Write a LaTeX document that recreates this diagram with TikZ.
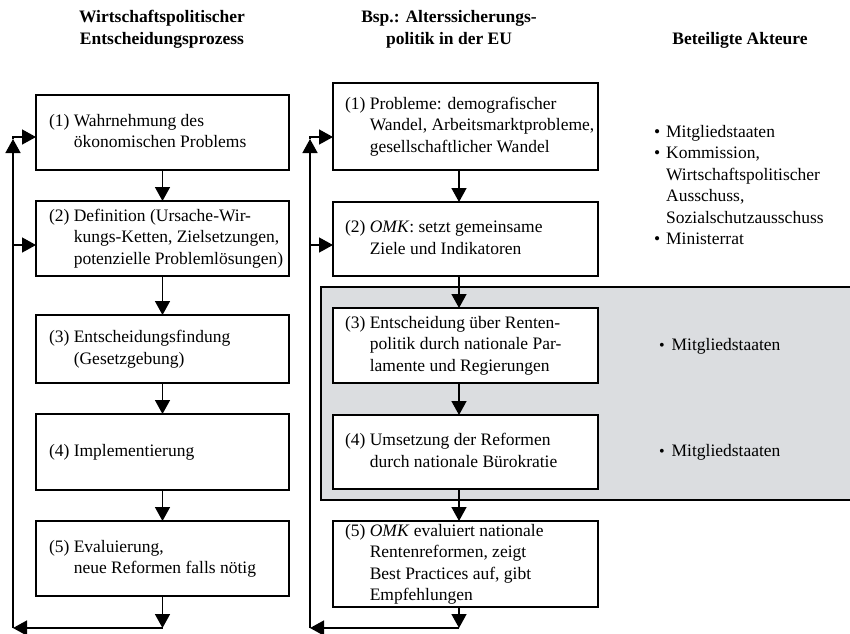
\documentclass[tikz,border=0pt]{standalone}
\usepackage{fontspec}
\setmainfont{Liberation Serif}
\usetikzlibrary{arrows.meta}
\definecolor{graybg}{RGB}{219,221,224}
\begin{document}
\begin{tikzpicture}[x=1pt,y=1pt,
  every node/.style={font=\fontsize{17.5}{21.5}\selectfont, inner sep=0pt, outer sep=0pt},
  box/.style={draw, line width=1.5pt, fill=white},
  lbox/.style={box, minimum width=253},
  mbox/.style={box, minimum width=265},
  txt/.style={anchor=west},
  head/.style={font=\fontsize{17.5}{22}\selectfont\bfseries, align=center},
  arr/.style={line width=1.5pt, -{Triangle[length=14pt,width=15pt]}},
  ln/.style={line width=1.5pt}
]
\useasboundingbox (0,0) rectangle (850,-633);

% headers
\node[head] (H1) at (162,-29) {Wirtschaftspolitischer\\Entscheidungsprozess};
\node[head] (H2) at (449,-29) {Bsp.: Alterssicherungs-\\politik in der EU};
\node[head] (H3) at (740,-40) {Beteiligte Akteure};

% gray region
\node[draw, line width=1.5pt, fill=graybg, anchor=north west, minimum width=540, minimum height=213] (G) at (321,-287) {};

% left column boxes
\node[lbox, minimum height=75] (L1) at (162.5,-132.5) {};
\node[lbox, minimum height=75] (L2) at (162.5,-238.5) {};
\node[lbox, minimum height=68] (L3) at (162.5,-349) {};
\node[lbox, minimum height=76] (L4) at (162.5,-452) {};
\node[lbox, minimum height=75] (L5) at (162.5,-558.5) {};

\node[txt] (L1t) at ([xshift=13]L1.west) {\begin{tabular}{@{}l@{\ }l@{}}(1) & Wahrnehmung des\\ & ökonomischen Problems\end{tabular}};
\node[txt] (L2t) at ([xshift=13]L2.west) {\begin{tabular}{@{}l@{\ }l@{}}(2) & Definition (Ursache-Wir-\\ & kungs-Ketten, Zielsetzungen,\\ & potenzielle Problemlösungen)\end{tabular}};
\node[txt] (L3t) at ([xshift=13]L3.west) {\begin{tabular}{@{}l@{\ }l@{}}(3) & Entscheidungsfindung\\ & (Gesetzgebung)\end{tabular}};
\node[txt] (L4t) at ([xshift=13]L4.west) {\begin{tabular}{@{}l@{\ }l@{}}(4) & Implementierung\end{tabular}};
\node[txt] (L5t) at ([xshift=13]L5.west) {\begin{tabular}{@{}l@{\ }l@{}}(5) & Evaluierung,\\ & neue Reformen falls nötig\end{tabular}};

% middle column boxes
\node[mbox, minimum height=87] (M1) at (465.5,-126.5) {};
\node[mbox, minimum height=74] (M2) at (465.5,-239) {};
\node[mbox, minimum height=75] (M3) at (465.5,-345.5) {};
\node[mbox, minimum height=74] (M4) at (465.5,-452) {};
\node[mbox, minimum height=86] (M5) at (465.5,-564) {};

\node[txt] (M1t) at ([xshift=12]M1.west) {\begin{tabular}{@{}l@{\ }l@{}}(1) & Probleme: demografischer\\ & Wandel, Arbeitsmarktprobleme,\\ & gesellschaftlicher Wandel\end{tabular}};
\node[txt] (M2t) at ([xshift=12]M2.west) {\begin{tabular}{@{}l@{\ }l@{}}(2) & \textit{OMK}: setzt gemeinsame\\ & Ziele und Indikatoren\end{tabular}};
\node[txt] (M3t) at ([xshift=12]M3.west) {\begin{tabular}{@{}l@{\ }l@{}}(3) & Entscheidung über Renten-\\ & politik durch nationale Par-\\ & lamente und Regierungen\end{tabular}};
\node[txt] (M4t) at ([xshift=12]M4.west) {\begin{tabular}{@{}l@{\ }l@{}}(4) & Umsetzung der Reformen\\ & durch nationale Bürokratie\end{tabular}};
\node[txt] (M5t) at ([xshift=12]M5.west) {\begin{tabular}{@{}l@{\ }l@{}}(5) & \textit{OMK} evaluiert nationale\\ & Rentenreformen, zeigt\\ & Best Practices auf, gibt\\ & Empfehlungen\end{tabular}};

% actors
\node[txt] (A1) at (654,-186.5) {\begin{tabular}{@{}l@{\hspace{6pt}}l@{}}• & Mitgliedstaaten\\ • & Kommission,\\ & Wirtschaftspolitischer\\ & Ausschuss,\\ & Sozialschutzausschuss\\ • & Ministerrat\end{tabular}};
\node[txt] (A2) at (659,-346) {{\fontsize{16}{18}\selectfont •}\hspace{7pt}Mitgliedstaaten};
\node[txt] (A3) at (659,-452) {{\fontsize{16}{18}\selectfont •}\hspace{7pt}Mitgliedstaaten};

% left flow arrows
\draw[arr] (L1.south) -- (L2.north);
\draw[arr] (L2.south) -- (L3.north);
\draw[arr] (L3.south) -- (L4.north);
\draw[arr] (L4.south) -- (L5.north);

% middle flow arrows
\coordinate (mx) at (459,0);
\draw[arr] (M1.south -| mx) -- (M2.north -| mx);
\draw[arr] (M2.south -| mx) -- (M3.north -| mx);
\draw[arr] (M3.south -| mx) -- (M4.north -| mx);
\draw[arr] (M4.south -| mx) -- (M5.north -| mx);

% left feedback loop
\coordinate (LB) at (13,-628);
\coordinate (LU) at (13,-139);
\coordinate (LT) at (13,-137);
\coordinate (LM) at (13,-245);
\draw[arr] (L5.south) -- (L5.south |- LB);
\draw[arr] (L5.south |- LB) -- (LB);
\draw[arr] (LB) -- (LU);
\draw[arr] (LU) -- (LT) -- (LT -| L1.west);
\draw[arr] (LM) -- (LM -| L2.west);

% middle feedback loop
\coordinate (MB) at (310,-628);
\coordinate (MU) at (310,-139);
\coordinate (MT) at (310,-137);
\coordinate (MM) at (310,-245);
\draw[arr] (M5.south -| mx) -- (mx |- MB);
\draw[arr] (mx |- MB) -- (MB);
\draw[arr] (MB) -- (MU);
\draw[arr] (MU) -- (MT) -- (MT -| M1.west);
\draw[arr] (MM) -- (MM -| M2.west);
\end{tikzpicture}
\end{document}
